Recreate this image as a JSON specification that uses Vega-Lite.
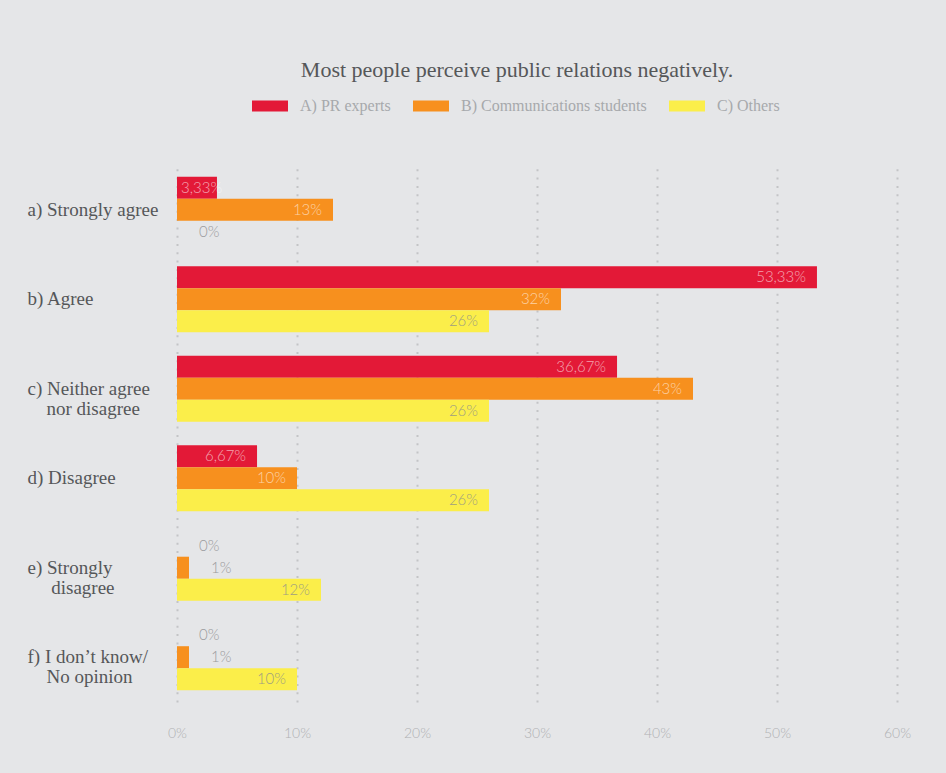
{
  "$schema": "https://vega.github.io/schema/vega-lite/v6.json",
  "width": 720,
  "height": 537,
  "autosize": {"type": "none"},
  "padding": {"left": 177, "top": 165, "right": 49, "bottom": 71},
  "background": "#e5e6e8",
  "title": {
    "text": "Most people perceive public relations negatively.",
    "font": "Liberation Serif",
    "fontSize": 22,
    "fontWeight": "normal",
    "color": "#555759",
    "anchor": "middle",
    "frame": "group",
    "dx": -20,
    "offset": 6
  },
  "config": {"view": {"stroke": null}},
  "data": {
    "values": [
      {"answer": "a) Strongly agree", "group": "A) PR experts", "pct": 3.33, "label": "3,33%"},
      {"answer": "a) Strongly agree", "group": "B) Communications students", "pct": 13, "label": "13%"},
      {"answer": "a) Strongly agree", "group": "C) Others", "pct": 0, "label": "0%"},
      {"answer": "b) Agree", "group": "A) PR experts", "pct": 53.33, "label": "53,33%"},
      {"answer": "b) Agree", "group": "B) Communications students", "pct": 32, "label": "32%"},
      {"answer": "b) Agree", "group": "C) Others", "pct": 26, "label": "26%"},
      {"answer": "c) Neither agree|\u200b\u00a0\u00a0\u00a0\u00a0nor disagree", "group": "A) PR experts", "pct": 36.67, "label": "36,67%"},
      {"answer": "c) Neither agree|\u200b\u00a0\u00a0\u00a0\u00a0nor disagree", "group": "B) Communications students", "pct": 43, "label": "43%"},
      {"answer": "c) Neither agree|\u200b\u00a0\u00a0\u00a0\u00a0nor disagree", "group": "C) Others", "pct": 26, "label": "26%"},
      {"answer": "d) Disagree", "group": "A) PR experts", "pct": 6.67, "label": "6,67%"},
      {"answer": "d) Disagree", "group": "B) Communications students", "pct": 10, "label": "10%"},
      {"answer": "d) Disagree", "group": "C) Others", "pct": 26, "label": "26%"},
      {"answer": "e) Strongly|\u200b\u00a0\u00a0\u00a0\u00a0\u00a0disagree", "group": "A) PR experts", "pct": 0, "label": "0%"},
      {"answer": "e) Strongly|\u200b\u00a0\u00a0\u00a0\u00a0\u00a0disagree", "group": "B) Communications students", "pct": 1, "label": "1%"},
      {"answer": "e) Strongly|\u200b\u00a0\u00a0\u00a0\u00a0\u00a0disagree", "group": "C) Others", "pct": 12, "label": "12%"},
      {"answer": "f) I don’t know/|\u200b\u00a0\u00a0\u00a0\u00a0No opinion", "group": "A) PR experts", "pct": 0, "label": "0%"},
      {"answer": "f) I don’t know/|\u200b\u00a0\u00a0\u00a0\u00a0No opinion", "group": "B) Communications students", "pct": 1, "label": "1%"},
      {"answer": "f) I don’t know/|\u200b\u00a0\u00a0\u00a0\u00a0No opinion", "group": "C) Others", "pct": 10, "label": "10%"}
    ]
  },
  "encoding": {
    "y": {
      "field": "answer",
      "type": "nominal",
      "sort": null,
      "scale": {"paddingInner": 0.26, "paddingOuter": 0.13},
      "axis": {
        "title": null,
        "domain": false,
        "ticks": false,
        "grid": false,
        "labelAlign": "left",
        "labelBaseline": "middle",
        "labelPadding": 150,
        "labelFont": "Liberation Serif",
        "labelFontSize": 19,
        "labelColor": "#555759",
        "labelLineHeight": 20,
        "labelLimit": 200,
        "labelExpr": "split(datum.label, '|')"
      }
    },
    "yOffset": {
      "field": "group",
      "type": "nominal",
      "sort": ["A) PR experts", "B) Communications students", "C) Others"]
    },
    "x": {
      "field": "pct",
      "type": "quantitative",
      "scale": {"domain": [0, 60], "nice": false},
      "axis": {
        "title": null,
        "values": [0, 10, 20, 30, 40, 50, 60],
        "labelExpr": "datum.value + '%'",
        "labelFlush": false,
        "domain": false,
        "ticks": false,
        "grid": true,
        "gridColor": "#c3c4c6",
        "gridWidth": 2,
        "gridDash": [2, 6.3],
        "labelPadding": 24,
        "labelFont": "Lato",
        "labelFontWeight": 300,
        "labelFontSize": 14,
        "labelColor": "#b0b1b3"
      }
    }
  },
  "layer": [
    {
      "mark": {"type": "bar"},
      "encoding": {
        "color": {
          "field": "group",
          "type": "nominal",
          "scale": {
            "domain": ["A) PR experts", "B) Communications students", "C) Others"],
            "range": ["#e31937", "#f7901e", "#fbee4a"]
          },
          "legend": {
            "orient": "none",
            "legendX": 75,
            "legendY": -77,
            "direction": "horizontal",
            "title": null,
            "symbolType": "M-1,-0.3H1V0.3H-1Z",
            "symbolSize": 1296,
            "symbolStrokeWidth": 0,
            "symbolOpacity": 1,
            "labelFont": "Liberation Serif",
            "labelFontSize": 16,
            "labelColor": "#a7a9ac",
            "labelOffset": 12,
            "labelLimit": 300,
            "columnPadding": 22
          }
        }
      }
    },
    {
      "transform": [{"filter": "datum.pct >= 5"}],
      "mark": {"type": "text", "align": "right", "baseline": "middle", "dx": -11, "font": "Lato", "fontWeight": 300, "fontSize": 15},
      "encoding": {
        "text": {"field": "label"},
        "color": {
          "condition": {"test": "datum.group === 'C) Others'", "value": "#a09e80"},
          "value": "rgba(255,255,255,0.6)"
        }
      }
    },
    {
      "transform": [{"filter": "datum.pct >= 3 && datum.pct < 5"}],
      "mark": {"type": "text", "align": "left", "baseline": "middle", "dx": 4, "font": "Lato", "fontWeight": 300, "fontSize": 15},
      "encoding": {
        "x": {"datum": 0},
        "text": {"field": "label"},
        "color": {"value": "rgba(255,255,255,0.6)"}
      }
    },
    {
      "transform": [{"filter": "datum.pct < 3"}],
      "mark": {"type": "text", "align": "left", "baseline": "middle", "dx": 22, "font": "Lato", "fontWeight": 300, "fontSize": 15, "color": "#9a9b9d"},
      "encoding": {
        "text": {"field": "label"}
      }
    }
  ]
}
